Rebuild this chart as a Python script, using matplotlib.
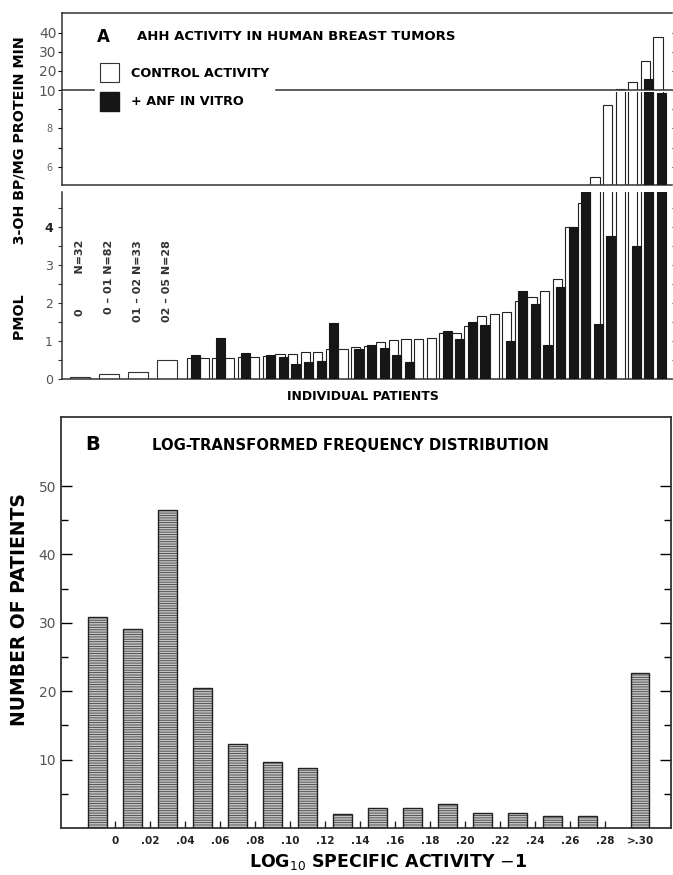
import numpy as np
import matplotlib
matplotlib.use("Agg")
import matplotlib.pyplot as plt
from matplotlib.patches import Patch

plt.rcParams['font.family'] = ['DejaVu Sans']
plt.rcParams['hatch.linewidth'] = 0.6

# ---------------- Panel A data ----------------
group_labels = ["0         N=32", "0 – 01 N=82", "01 – 02 N=33", "02 – 05 N=28"]
group_values = [0.06, 0.12, 0.19, 0.50]

control = [0.55, 0.55, 0.55, 0.55, 0.57, 0.58, 0.60, 0.65, 0.65, 0.72,
           0.72, 0.78, 0.78, 0.85, 0.88, 0.98, 1.02, 1.05, 1.05, 1.08,
           1.22, 1.22, 1.40, 1.65, 1.72, 1.75, 2.05, 2.17, 2.32, 2.62,
           4.00, 4.62, 5.50, 9.20, 10.5, 14.0, 25.0, 38.0]
anf = [0.63, np.nan, 1.08, np.nan, 0.69, np.nan, 0.62, 0.57, 0.39, 0.44,
       0.47, 1.48, np.nan, 0.80, 0.90, 0.82, 0.62, 0.45, np.nan, np.nan,
       1.25, 1.05, 1.50, 1.42, np.nan, 1.00, 2.32, 1.97, 0.90, 2.43,
       4.00, 5.00, 1.45, 3.75, np.nan, 3.50, 16.0, 9.8]

# ---------------- Panel B data ----------------
bin_labels = ["0", ".02", ".04", ".06", ".08", ".10", ".12", ".14", ".16",
              ".18", ".20", ".22", ".24", ".26", ".28", ">.30"]
counts = [30.8, 29.1, 46.5, 20.4, 12.3, 9.6, 8.8, 2.0, 2.9, 2.9, 3.5,
          2.2, 2.2, 1.7, 1.7, 22.7]

W, H = 673, 875
fig = plt.figure(figsize=(W / 100, H / 100), dpi=100)


def rect(x0, y0, x1, y1):
    return [x0 / W, 1 - y1 / H, (x1 - x0) / W, (y1 - y0) / H]


axA_bot = fig.add_axes(rect(62, 192, 672, 379))
axA_mid = fig.add_axes(rect(62, 92, 672, 185))
axA_top = fig.add_axes(rect(62, 13, 672, 90))

group_pos = np.arange(len(group_values)) * 2.3
patient_pos = 9 + np.arange(len(control))
control_a = np.array(control)
anf_a = np.array(anf)
mask = ~np.isnan(anf_a)

for ax in (axA_bot, axA_mid, axA_top):
    ax.bar(group_pos, group_values, width=1.6, color='white',
           edgecolor='#333333', linewidth=0.8, zorder=2)
    ax.bar(patient_pos - 0.13, control_a, width=0.72, color='white',
           edgecolor='#222222', linewidth=0.8, zorder=2)
    ax.bar(patient_pos[mask] + 0.13, anf_a[mask], width=0.72, color='#161616',
           edgecolor='#161616', linewidth=0.8, zorder=3)
    ax.set_xlim(-1.43, 46.98)
    ax.set_xticks([])
    ax.spines['right'].set_visible(False)
    for s in ax.spines.values():
        s.set_linewidth(1.1)
        s.set_color('#333333')

axA_bot.spines['top'].set_visible(False)
axA_mid.spines['top'].set_visible(False)

axA_bot.set_ylim(0, 4.92)
axA_bot.set_yticks([0, 1, 2, 3, 4])
axA_bot.set_yticks(np.arange(0.5, 5, 1.0), minor=True)
axA_bot.tick_params(axis='y', which='both', direction='out', length=3,
                    width=0.8, labelsize=9, right=True, colors='#333333')
axA_bot.tick_params(axis='y', labelcolor='#555555')
axA_bot.get_yticklabels()[4].set_fontweight('bold')
axA_bot.get_yticklabels()[4].set_color('#222222')

axA_mid.set_ylim(5.08, 9.85)
axA_mid.set_yticks([6, 8])
axA_mid.set_yticks([7, 9], minor=True)
axA_mid.tick_params(axis='y', which='both', direction='out', length=3,
                    width=0.8, labelsize=7, labelcolor='#666666', right=True)

axA_top.set_ylim(10, 50.5)
axA_top.set_yticks([10, 20, 30, 40])
axA_top.tick_params(axis='y', direction='out', length=3, width=0.8,
                    labelsize=10, labelcolor='#555555', pad=1, right=True)

# group annotations
for x, lab in zip(group_pos, group_labels):
    axA_bot.text(x, 3.66, lab, rotation=90, ha='center', va='top',
                 fontsize=8, color='#333333', fontweight='bold')

fig.text(97 / W, 1 - 37 / H, "A", fontsize=12, fontweight='bold',
         ha='left', va='center')
fig.text(137 / W, 1 - 37 / H, "AHH ACTIVITY IN HUMAN BREAST TUMORS",
         fontsize=9.5, fontweight='bold', ha='left', va='center')

handles = [Patch(facecolor='white', edgecolor='#333333', linewidth=0.8),
           Patch(facecolor='#161616', edgecolor='#161616')]
leg = fig.legend(handles, ["CONTROL ACTIVITY", "+ ANF IN VITRO"],
                 loc='upper left', bbox_to_anchor=(95 / W, 1 - 58 / H),
                 frameon=True, facecolor='white', edgecolor='white',
                 framealpha=1, fancybox=False, handlelength=1.5,
                 handleheight=1.9, handletextpad=0.9, labelspacing=0.75,
                 borderpad=0.4, borderaxespad=0,
                 prop={'size': 9.2, 'weight': 'bold'})
leg.set_zorder(10)

fig.text(20 / W, 1 - 188 / H, "PMOL          3-OH BP/MG PROTEIN MIN",
         rotation=90, fontsize=10.3, fontweight='bold', ha='center',
         va='center')
fig.text(363 / W, 1 - 396 / H, "INDIVIDUAL PATIENTS", fontsize=9,
         fontweight='bold', ha='center', va='center')

# ---------------- Panel B ----------------
axB = fig.add_axes(rect(61, 417, 671, 828))
centers = np.append(np.arange(15) * 0.02 - 0.01, 0.30)
axB.bar(centers, counts, width=0.0104, facecolor='#c4c4c4',
        edgecolor='#444444', hatch='-------', linewidth=0, zorder=2)
axB.bar(centers, counts, width=0.0104, fill=False, edgecolor='#222222',
        linewidth=1.0, zorder=3)
axB.set_xlim(-0.0309, 0.3177)
axB.set_ylim(0, 60.1)
tick_pos = np.append(np.arange(15) * 0.02, 0.30)
axB.set_xticks(tick_pos, bin_labels)
axB.xaxis.get_major_ticks()[-1].tick1line.set_visible(False)
axB.tick_params(axis='x', direction='in', length=5, width=1.0, pad=6,
                labelsize=7.5, colors='#222222')
for t in axB.get_xticklabels():
    t.set_fontweight('bold')
axB.set_yticks([10, 20, 30, 40, 50])
axB.set_yticks([5, 15, 25, 35, 45], minor=True)
axB.tick_params(axis='y', which='major', direction='in', length=8,
                width=1.0, labelsize=10, labelcolor='#555555', right=True)
axB.tick_params(axis='y', which='minor', direction='in', length=5,
                width=1.0, right=True)
for s in axB.spines.values():
    s.set_linewidth(1.3)
    s.set_color('#333333')

fig.text(85 / W, 1 - 445 / H, "B", fontsize=14, fontweight='bold',
         ha='left', va='center')
fig.text(152 / W, 1 - 445 / H, "LOG-TRANSFORMED FREQUENCY DISTRIBUTION",
         fontsize=10.7, fontweight='bold', ha='left', va='center')
fig.text(20 / W, 1 - 610 / H, "NUMBER OF PATIENTS", rotation=90,
         fontsize=13.5, fontweight='bold', ha='center', va='center')
fig.text(388 / W, 1 - 862 / H, r"LOG$_{10}$ SPECIFIC ACTIVITY $-$1",
         fontsize=12.5, fontweight='bold', ha='center', va='center')

fig.savefig("out.png", dpi=100)
